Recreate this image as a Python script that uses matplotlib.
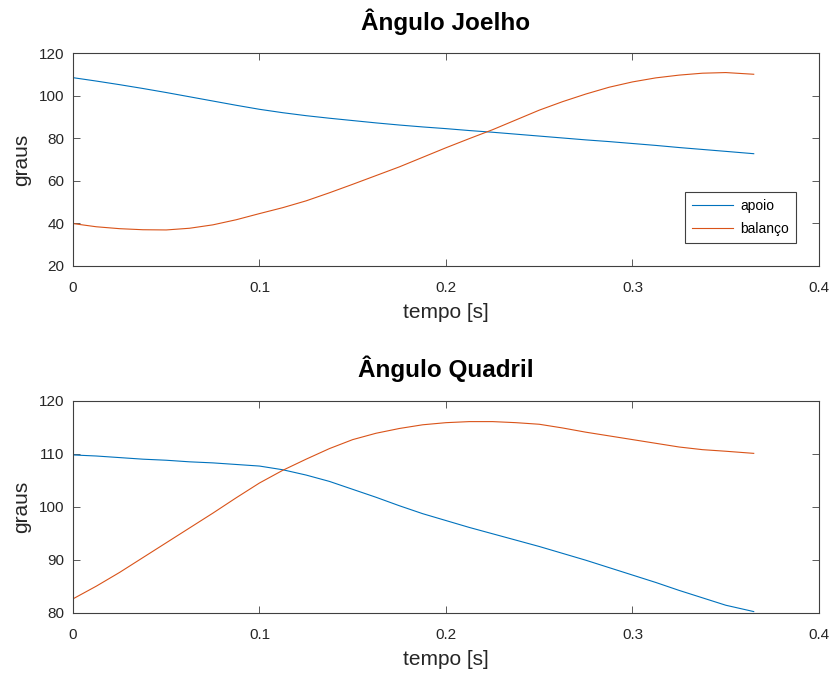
import matplotlib
matplotlib.use("Agg")
import matplotlib.pyplot as plt
from matplotlib.ticker import FormatStrFormatter

plt.rcParams['font.family'] = ['Liberation Sans', 'DejaVu Sans']

# tempo [s]
t = [0, 0.0125, 0.025, 0.0375, 0.05, 0.0625, 0.075, 0.0875, 0.1, 0.1125,
     0.125, 0.1375, 0.15, 0.1625, 0.175, 0.1875, 0.2, 0.2125, 0.225, 0.2375,
     0.25, 0.2625, 0.275, 0.2875, 0.3, 0.3125, 0.325, 0.3375, 0.35, 0.365]

# angulo joelho
joelho_apoio = [108.5, 106.9, 105.2, 103.4, 101.5, 99.5, 97.5, 95.5, 93.6, 92.0,
                90.6, 89.4, 88.3, 87.2, 86.2, 85.3, 84.5, 83.6, 82.8, 81.9,
                81.0, 80.1, 79.2, 78.4, 77.5, 76.6, 75.6, 74.7, 73.8, 72.7]
joelho_balanco = [39.8, 38.3, 37.4, 36.9, 36.8, 37.6, 39.2, 41.6, 44.5, 47.3,
                  50.5, 54.3, 58.3, 62.4, 66.5, 71.0, 75.5, 79.8, 84.0, 88.6,
                  93.2, 97.2, 100.8, 104.0, 106.5, 108.4, 109.7, 110.6, 110.9, 110.1]

# angulo quadril
quadril_apoio = [109.8, 109.6, 109.3, 109.0, 108.8, 108.5, 108.3, 108.0, 107.7, 107.0,
                 106.0, 104.8, 103.3, 101.8, 100.2, 98.7, 97.4, 96.1, 94.9, 93.7,
                 92.5, 91.2, 89.9, 88.5, 87.1, 85.7, 84.2, 82.8, 81.4, 80.2]
quadril_balanco = [82.6, 85.0, 87.6, 90.4, 93.2, 96.0, 98.8, 101.7, 104.5, 106.9,
                   109.0, 111.0, 112.7, 113.9, 114.8, 115.5, 115.9, 116.1, 116.1, 115.9,
                   115.6, 114.9, 114.1, 113.4, 112.7, 112.0, 111.3, 110.8, 110.5, 110.1]

azul = '#0072BD'
laranja = '#D95319'
cor_eixo = '#404040'
cor_texto = '#262626'

fig = plt.figure(figsize=(8.33, 6.73), dpi=100)
ax1 = fig.add_axes([0.0876, 0.6053, 0.8956, 0.3156])
ax2 = fig.add_axes([0.0876, 0.0897, 0.8956, 0.3145])


def arruma(ax, titulo, ylim, yticks):
    ax.set_xlim(0, 0.4)
    ax.set_ylim(*ylim)
    ax.set_xticks([0, 0.1, 0.2, 0.3, 0.4])
    ax.set_yticks(yticks)
    ax.xaxis.set_major_formatter(FormatStrFormatter('%g'))
    ax.tick_params(direction='in', length=5, width=0.6, top=True, right=True,
                   labelsize=11, colors=cor_eixo, labelcolor=cor_texto, pad=6)
    ax.tick_params(axis='x', pad=11)
    for s in ax.spines.values():
        s.set_color(cor_eixo)
        s.set_linewidth(0.8)
    ax.set_xlabel('tempo [s]', fontsize=15, color=cor_texto, labelpad=6)
    ax.set_ylabel('graus', fontsize=15, color=cor_texto, labelpad=6)
    ax.set_title(titulo, fontsize=17.5, fontweight='bold', color='black', pad=17)


ax1.plot(t, joelho_apoio, color=azul, lw=0.8, label='apoio')
ax1.plot(t, joelho_balanco, color=laranja, lw=0.8, label='balanço')
arruma(ax1, 'Ângulo Joelho', (20, 120), [20, 40, 60, 80, 100, 120])
leg = ax1.legend(loc='lower right', bbox_to_anchor=(0.969, 0.1055), fontsize=10,
                 fancybox=False, framealpha=1, edgecolor=cor_eixo,
                 handlelength=3, handletextpad=0.5, borderpad=0.5,
                 labelspacing=0.7, borderaxespad=0)
leg.get_frame().set_linewidth(0.8)

ax2.plot(t, quadril_apoio, color=azul, lw=0.8)
ax2.plot(t, quadril_balanco, color=laranja, lw=0.8)
arruma(ax2, 'Ângulo Quadril', (80, 120), [80, 90, 100, 110, 120])

fig.savefig('out.png', dpi=100)
